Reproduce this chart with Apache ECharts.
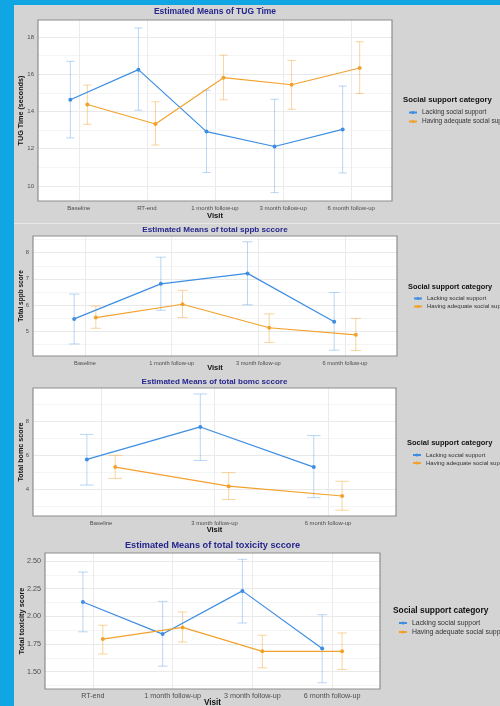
<!DOCTYPE html>
<html>
<head>
<meta charset="utf-8">
<script src="https://cdn.jsdelivr.net/npm/echarts@6/dist/echarts.min.js"></script>
<style>
    html, body { margin: 0; padding: 0; background: #10a6e4; }
    #chart { width: 500px; height: 706px; }
</style>
</head>
<body>
<div id="chart"></div>
<script>
    // 分组
    const groupNames = ['Lacking social support', 'Having adequate social support'];

    // TUG Time
    const tugVisits = ['Baseline', 'RT-end', '1 month follow-up', '3 month follow-up', '6 month follow-up'];
    const tugLackMean = [14.63, 16.25, 12.92, 12.12, 13.04];
    const tugLackLow = [12.58, 14.07, 10.72, 9.64, 10.70];
    const tugLackHigh = [16.70, 18.49, 15.14, 14.66, 15.37];
    const tugAdeqMean = [14.38, 13.33, 15.82, 15.44, 16.34];
    const tugAdeqLow = [13.31, 12.20, 14.63, 14.12, 14.97];
    const tugAdeqHigh = [15.42, 14.52, 17.03, 16.74, 17.75];
    const tugTicks = [10, 12, 14, 16, 18];
    const tugMinor = [11, 13, 15, 17];

    // sppb
    const sppbVisits = ['Baseline', '1 month follow-up', '3 month follow-up', '6 month follow-up'];
    const sppbLackMean = [5.47, 6.81, 7.21, 5.36];
    const sppbLackLow = [4.51, 5.80, 6.01, 4.27];
    const sppbLackHigh = [6.42, 7.83, 8.42, 6.48];
    const sppbAdeqMean = [5.52, 6.03, 5.13, 4.86];
    const sppbAdeqLow = [5.11, 5.52, 4.57, 4.26];
    const sppbAdeqHigh = [5.96, 6.56, 5.66, 5.49];
    const sppbTicks = [5, 6, 7, 8];
    const sppbMinor = [4.5, 5.5, 6.5, 7.5, 8.5];

    // bomc
    const bomcVisits = ['Baseline', '3 month follow-up', '6 month follow-up'];
    const bomcLackMean = [5.76, 7.68, 5.31];
    const bomcLackLow = [4.25, 5.70, 3.50];
    const bomcLackHigh = [7.24, 9.63, 7.17];
    const bomcAdeqMean = [5.31, 4.18, 3.60];
    const bomcAdeqLow = [4.64, 3.39, 2.76];
    const bomcAdeqHigh = [6.00, 4.98, 4.47];
    const bomcTicks = [4, 6, 8];
    const bomcMinor = [3, 5, 7, 9];

    // toxicity
    const toxVisits = ['RT-end', '1 month follow-up', '3 month follow-up', '6 month follow-up'];
    const toxLackMean = [2.13, 1.84, 2.23, 1.71];
    const toxLackLow = [1.86, 1.55, 1.94, 1.40];
    const toxLackHigh = [2.40, 2.135, 2.515, 2.015];
    const toxAdeqMean = [1.795, 1.90, 1.684, 1.684];
    const toxAdeqLow = [1.66, 1.768, 1.535, 1.52];
    const toxAdeqHigh = [1.92, 2.04, 1.83, 1.85];
    const toxTicks = [1.50, 1.75, 2.00, 2.25, 2.50];
    const toxMinor = [1.375, 1.625, 1.875, 2.125, 2.375];

    const font = 'Liberation Sans, Arial, sans-serif';
    const lineColors = ['#3d8ee3', '#f2a22c'];
    const barColors = ['rgba(100,165,232,0.45)', 'rgba(244,172,64,0.5)'];

    const panels = [
        {
            title: 'Estimated Means of TUG Time', yName: 'TUG Time (seconds)', visits: tugVisits,
            groups: [[tugLackMean, tugLackLow, tugLackHigh], [tugAdeqMean, tugAdeqLow, tugAdeqHigh]],
            yMin: 9.19, yMax: 18.92, ticks: tugTicks, minor: tugMinor, decimals: 0,
            grid: {left: 38, top: 20, width: 354, height: 181},
            titleY: 12, xNameY: 216, legendX: 403, legendTitleY: 100, legendTop: 104,
            tickSize: 6, titleSize: 8.5, legendTitleSize: 7.8, legendSize: 6.5, yNameSize: 7.2, xNameSize: 7.6, yNameX: 21
        },
        {
            title: 'Estimated Means of total sppb sccore', yName: 'Total sppb score', visits: sppbVisits,
            groups: [[sppbLackMean, sppbLackLow, sppbLackHigh], [sppbAdeqMean, sppbAdeqLow, sppbAdeqHigh]],
            yMin: 4.05, yMax: 8.64, ticks: sppbTicks, minor: sppbMinor, decimals: 0,
            grid: {left: 33, top: 236, width: 364, height: 120},
            titleY: 230, xNameY: 368, legendX: 408, legendTitleY: 287, legendTop: 290.5,
            tickSize: 5.7, titleSize: 8.1, legendTitleSize: 7.4, legendSize: 6, yNameSize: 6.5, xNameSize: 7.5, yNameX: 21
        },
        {
            title: 'Estimated Means of total bomc sccore', yName: 'Total bomc score', visits: bomcVisits,
            groups: [[bomcLackMean, bomcLackLow, bomcLackHigh], [bomcAdeqMean, bomcAdeqLow, bomcAdeqHigh]],
            yMin: 2.42, yMax: 9.98, ticks: bomcTicks, minor: bomcMinor, decimals: 0,
            grid: {left: 33, top: 388, width: 363, height: 128},
            titleY: 381.5, xNameY: 530, legendX: 407, legendTitleY: 442.5, legendTop: 447,
            tickSize: 5.9, titleSize: 8, legendTitleSize: 7.5, legendSize: 6, yNameSize: 7.2, xNameSize: 7.5, yNameX: 21
        },
        {
            title: 'Estimated Means of total toxicity sccore', yName: 'Total toxicity score', visits: toxVisits,
            groups: [[toxLackMean, toxLackLow, toxLackHigh], [toxAdeqMean, toxAdeqLow, toxAdeqHigh]],
            yMin: 1.344, yMax: 2.572, ticks: toxTicks, minor: toxMinor, decimals: 2,
            grid: {left: 45, top: 553, width: 335, height: 136},
            titleY: 545, xNameY: 702.5, legendX: 393, legendTitleY: 610.5, legendTop: 614.5,
            tickSize: 7.2, titleSize: 9.2, legendTitleSize: 8.4, legendSize: 6.9, yNameSize: 7.4, xNameSize: 8.2, yNameX: 22
        }
    ];

    const option = {
        animation: false,
        backgroundColor: '#10a6e4',
        textStyle: {fontFamily: font},
        graphic: [
            {type: 'rect', shape: {x: 14, y: 5, width: 486, height: 701}, style: {fill: '#d4d4d4'}, z: -10},
            {type: 'rect', shape: {x: 14, y: 223, width: 486, height: 1}, style: {fill: '#e8e8e8'}, z: -9}
        ],
        grid: [], xAxis: [], yAxis: [], legend: [], series: []
    };

    function errorBars(params, api) {
        let x = api.value(0);
        let lo = api.coord([x, api.value(1)]);
        let hi = api.coord([x, api.value(2)]);
        let w = api.size([0.06, 0])[0];
        let style = {stroke: api.visual('color'), lineWidth: 1};
        return {
            type: 'group',
            children: [
                {type: 'line', shape: {x1: lo[0], y1: lo[1], x2: hi[0], y2: hi[1]}, style: style},
                {type: 'line', shape: {x1: hi[0] - w, y1: hi[1], x2: hi[0] + w, y2: hi[1]}, style: style},
                {type: 'line', shape: {x1: lo[0] - w, y1: lo[1], x2: lo[0] + w, y2: lo[1]}, style: style}
            ]
        };
    }

    panels.forEach((p, k) => {
        let n = p.visits.length;
        let idx = p.visits.map((v, i) => i);
        let g = p.grid;
        let cx = g.left + g.width / 2;

        option.grid.push(Object.assign({show: true, backgroundColor: '#fff', borderWidth: 0}, g));

        option.xAxis.push({
            type: 'value', gridIndex: k, min: -0.6, max: n - 0.4,
            axisLine: {show: false},
            axisTick: {show: false, customValues: idx},
            axisLabel: {
                customValues: idx, formatter: v => p.visits[Math.round(v)],
                fontSize: p.tickSize, color: '#4d4d4d', margin: 4, fontFamily: font
            },
            splitLine: {show: true, lineStyle: {color: '#ebebeb', width: 1}}
        });

        // 主刻度
        option.yAxis.push({
            type: 'value', gridIndex: k, min: p.yMin, max: p.yMax,
            axisLine: {show: false},
            axisTick: {show: false, customValues: p.ticks},
            axisLabel: {
                customValues: p.ticks, formatter: v => v.toFixed(p.decimals),
                fontSize: p.tickSize, color: '#4d4d4d', margin: 4, fontFamily: font
            },
            splitLine: {show: true, lineStyle: {color: '#e9e9e9', width: 1}}
        });
        // 次刻度网格
        option.yAxis.push({
            type: 'value', gridIndex: k, min: p.yMin, max: p.yMax, position: 'left',
            axisLine: {show: false},
            axisTick: {show: false, customValues: p.minor},
            axisLabel: {show: false},
            splitLine: {show: true, lineStyle: {color: '#f4f4f4', width: 1}}
        });

        p.groups.forEach((grp, gi) => {
            let off = gi === 0 ? -0.125 : 0.125;
            option.series.push({
                type: 'custom', xAxisIndex: k, yAxisIndex: 2 * k, silent: true, z: 2,
                itemStyle: {color: barColors[gi]},
                encode: {x: 0, y: [1, 2]},
                data: idx.map(i => [i + off, grp[1][i], grp[2][i]]),
                renderItem: errorBars
            });
        });
        p.groups.forEach((grp, gi) => {
            let off = gi === 0 ? -0.125 : 0.125;
            option.series.push({
                type: 'line', name: groupNames[gi], xAxisIndex: k, yAxisIndex: 2 * k, z: 3,
                symbol: 'circle', symbolSize: 4,
                lineStyle: {width: 1.2, color: lineColors[gi]},
                itemStyle: {color: lineColors[gi]},
                data: idx.map(i => [i + off, grp[0][i]])
            });
        });

        option.legend.push({
            orient: 'vertical', left: p.legendX, top: p.legendTop,
            itemWidth: 8, itemHeight: 4, itemGap: 2, selectedMode: false,
            data: groupNames,
            textStyle: {fontSize: p.legendSize, color: '#333', fontFamily: font}
        });

        option.graphic.push(
            // 面板边框
            {
                type: 'rect', z: 50,
                shape: {x: g.left, y: g.top, width: g.width, height: g.height},
                style: {fill: null, stroke: '#8e8e8e', lineWidth: 1.2}
            },
            {
                type: 'text', x: cx, y: p.titleY,
                style: {text: p.title, fill: '#26268f', font: 'bold ' + p.titleSize + 'px ' + font, align: 'center', verticalAlign: 'middle'}
            },
            {
                type: 'text', x: cx, y: p.xNameY,
                style: {text: 'Visit', fill: '#111', font: 'bold ' + p.xNameSize + 'px ' + font, align: 'center', verticalAlign: 'middle'}
            },
            {
                type: 'text', x: p.yNameX, y: g.top + g.height / 2, rotation: Math.PI / 2,
                style: {text: p.yName, fill: '#111', font: 'bold ' + p.yNameSize + 'px ' + font, align: 'center', verticalAlign: 'middle'}
            },
            {
                type: 'text', x: p.legendX, y: p.legendTitleY,
                style: {text: 'Social support category', fill: '#111', font: 'bold ' + p.legendTitleSize + 'px ' + font, align: 'left', verticalAlign: 'middle'}
            }
        );
    });

    let chart = echarts.init(document.getElementById('chart'));
    chart.setOption(option);
    window.addEventListener('resize', function () {
        chart.resize();
    });
</script>
</body>
</html>
